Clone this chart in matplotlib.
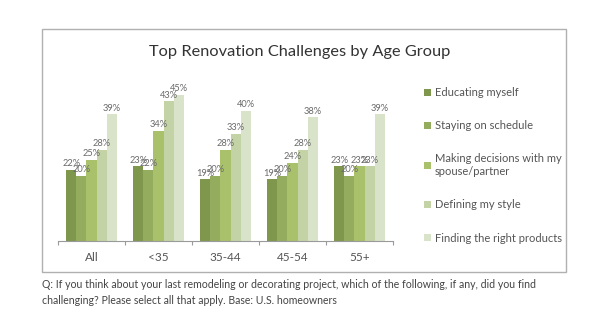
import matplotlib
matplotlib.use("Agg")
import matplotlib.pyplot as plt
from matplotlib.patches import Rectangle
import numpy as np

plt.rcParams['font.family'] = ['Lato', 'DejaVu Sans']

categories = ["All", "<35", "35-44", "45-54", "55+"]
series_names = ["Educating myself", "Staying on schedule",
                "Making decisions with my\nspouse/partner", "Defining my style",
                "Finding the right products"]
educating = [22, 23, 19, 19, 23]
schedule = [20, 22, 20, 20, 20]
decisions = [25, 34, 28, 24, 23]
style = [28, 43, 33, 28, 23]
products = [39, 45, 40, 38, 39]
series = [educating, schedule, decisions, style, products]
colors = ["#7e974d", "#94ac5e", "#a9c16b", "#c4d3a5", "#d9e3c9"]

title = "Top Renovation Challenges by Age Group"
footer1 = "Q: If you think about your last remodeling or decorating project, which of the following, if any, did you find"
footer2 = "challenging? Please select all that apply. Base: U.S. homeowners"

W, H = 600, 328
fig = plt.figure(figsize=(W / 100, H / 100), dpi=100)
ax = fig.add_axes([58 / W, 1 - 241 / H, (393 - 58) / W, 162.5 / H])

x = np.arange(len(categories))
bw = 0.152
for i, (vals, c, name) in enumerate(zip(series, colors, series_names)):
    pos = x + (i - 2) * bw
    ax.bar(pos, vals, width=bw, color=c, label=name, linewidth=0)
    for p, v in zip(pos, vals):
        ax.text(p, v + 0.5, f"{v}%", ha='center', va='bottom', fontsize=6.7, color='#6a6a6a')

ax.set_xlim(-0.5, len(categories) - 0.5)
ax.set_ylim(0, 50)
ax.set_yticks([])
for s in ['left', 'right', 'top']:
    ax.spines[s].set_visible(False)
ax.spines['bottom'].set_color('#9a9a9a')
ax.spines['bottom'].set_linewidth(0.8)
ax.set_xticks(x)
ax.set_xticklabels(categories, fontsize=8.5, color='#555555')
ax.tick_params(axis='x', which='major', length=0, pad=8)
ax.set_xticks(np.arange(-0.5, len(categories)), minor=True)
ax.tick_params(axis='x', which='minor', length=3, color='#9a9a9a', width=0.8)

leg = ax.legend(loc='upper left', bbox_to_anchor=(424 / W, 1 - 87 / H),
                bbox_transform=fig.transFigure, frameon=False, fontsize=8.0,
                handlelength=0.6, handleheight=0.6, handletextpad=0.35,
                labelspacing=2.0, borderpad=0, borderaxespad=0)
for t in leg.get_texts():
    t.set_color('#555555')

fig.patches.append(Rectangle((42 / W, 1 - 272 / H), (566 - 42) / W, (272 - 29) / H,
                             transform=fig.transFigure, fill=False,
                             edgecolor='#b0b0b0', linewidth=1))
fig.text(0.5, 1 - 52 / H, title, ha='center', va='center', fontsize=11.8, color='#333333')
fig.text(42 / W, 1 - 285 / H, footer1, ha='left', va='center', fontsize=7.6, color='#444444')
fig.text(42 / W, 1 - 300 / H, footer2, ha='left', va='center', fontsize=7.6, color='#444444')

fig.savefig("out.png", dpi=100)
